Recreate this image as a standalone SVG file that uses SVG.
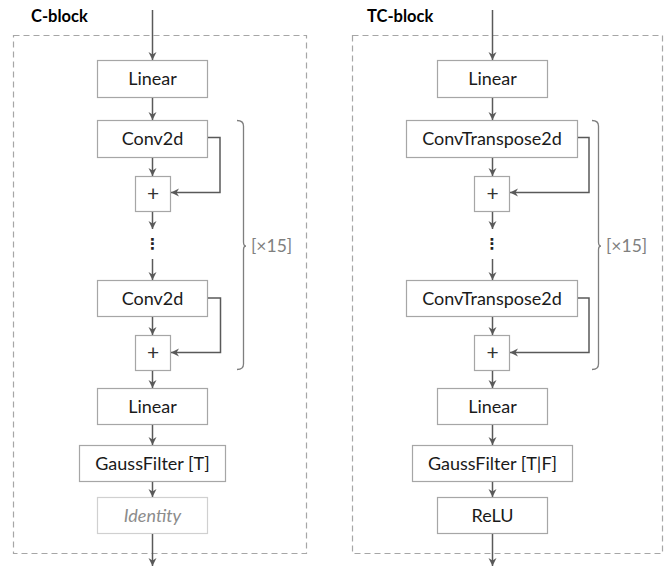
<svg xmlns="http://www.w3.org/2000/svg" width="665" height="566" viewBox="0 0 665 566">
<defs>
<marker id="ah" markerWidth="10" markerHeight="10" refX="8" refY="4" orient="auto" markerUnits="userSpaceOnUse">
<path d="M0,0 L8,4 L0,8 L2.5,4 z" fill="#595959"/>
</marker>
<style>
.frame{fill:none;stroke:#a6a6a6;stroke-width:1.2;stroke-dasharray:6,4}
.box{fill:#fff;stroke:#a6a6a6;stroke-width:1.2}
.ghost{fill:#fff;stroke:#d0d0d0;stroke-width:1.2}
.lbl{font-family:Lato,"Liberation Sans",sans-serif;font-size:18px;fill:#1a1a1a;text-anchor:middle}
.plus{font-family:Lato,"Liberation Sans",sans-serif;font-size:21px;fill:#333;text-anchor:middle}
.it{font-style:italic;fill:#8c8c8c}
.title{font-family:Lato,"Liberation Sans",sans-serif;font-size:16.5px;font-weight:bold;fill:#000}
.rep{font-family:Lato,"Liberation Sans",sans-serif;font-size:17.5px;fill:#7f7f7f}
.arr{fill:none;stroke:#595959;stroke-width:1.5;marker-end:url(#ah)}
.brace{fill:none;stroke:#7f7f7f;stroke-width:1.3}
.dots{font-family:"DejaVu Sans",sans-serif;font-size:15px;font-weight:bold;fill:#222;text-anchor:middle}
</style>
</defs>

<!-- Left block -->
<g id="c-block">
<rect class="frame" x="13.5" y="35.5" width="293" height="518"/>
<text class="title" x="31" y="22">C-block</text>
</g>
<g id="c-linear1"><rect class="box" x="97.5" y="60.5" width="110" height="37"/><text class="lbl" x="152.5" y="85">Linear</text></g>
<g id="c-conv1"><rect class="box" x="97.5" y="120.5" width="110" height="37"/><text class="lbl" x="152.5" y="145">Conv2d</text></g>
<g id="c-plus1"><rect class="box" x="135.5" y="176.5" width="35" height="35"/><text class="plus" x="153" y="201">+</text></g>
<g id="c-dots"><text class="dots" x="152.5" y="249">⋮</text></g>
<g id="c-conv2"><rect class="box" x="97.5" y="280.5" width="110" height="36"/><text class="lbl" x="152.5" y="304.5">Conv2d</text></g>
<g id="c-plus2"><rect class="box" x="135.5" y="335.5" width="35" height="35"/><text class="plus" x="153" y="360">+</text></g>
<g id="c-linear2"><rect class="box" x="97.5" y="388.5" width="110" height="36"/><text class="lbl" x="152.5" y="412.5">Linear</text></g>
<g id="c-gauss"><rect class="box" x="79.5" y="445.5" width="146" height="36"/><text class="lbl" x="152.5" y="469.5">GaussFilter [T]</text></g>
<g id="c-identity"><rect class="ghost" x="97.5" y="497.5" width="110" height="36"/><text class="lbl it" x="152.5" y="521.5">Identity</text></g>
<g id="c-repeat">
<path class="brace" d="M237,120.5 Q243.5,120.5 243.5,126 L243.5,242 Q243.5,246 246,246 Q243.5,246 243.5,250 L243.5,364 Q243.5,369.5 237,369.5"/>
<text class="rep" x="251" y="252">[×15]</text>
</g>

<!-- Right block -->
<g id="tc-block">
<rect class="frame" x="352.5" y="35.5" width="310" height="518"/>
<text class="title" x="367" y="22">TC-block</text>
</g>
<g id="tc-linear1"><rect class="box" x="437.5" y="60.5" width="110" height="37"/><text class="lbl" x="492.5" y="85">Linear</text></g>
<g id="tc-conv1"><rect class="box" x="406.5" y="120.5" width="171" height="37"/><text class="lbl" x="492" y="145">ConvTranspose2d</text></g>
<g id="tc-plus1"><rect class="box" x="474.5" y="176.5" width="35" height="35"/><text class="plus" x="492.5" y="201">+</text></g>
<g id="tc-dots"><text class="dots" x="492" y="249">⋮</text></g>
<g id="tc-conv2"><rect class="box" x="406.5" y="280.5" width="171" height="36"/><text class="lbl" x="492" y="304.5">ConvTranspose2d</text></g>
<g id="tc-plus2"><rect class="box" x="474.5" y="335.5" width="35" height="35"/><text class="plus" x="492.5" y="360">+</text></g>
<g id="tc-linear2"><rect class="box" x="437.5" y="388.5" width="110" height="36"/><text class="lbl" x="492.5" y="412.5">Linear</text></g>
<g id="tc-gauss"><rect class="box" x="412.5" y="445.5" width="160" height="36"/><text class="lbl" x="492.5" y="469.5">GaussFilter [T|F]</text></g>
<g id="tc-relu"><rect class="box" x="437.5" y="497.5" width="110" height="36"/><text class="lbl" x="492.5" y="521.5">ReLU</text></g>
<g id="tc-repeat">
<path class="brace" d="M592,120.5 Q598.5,120.5 598.5,126 L598.5,242 Q598.5,246 601,246 Q598.5,246 598.5,250 L598.5,364 Q598.5,369.5 592,369.5"/>
<text class="rep" x="606" y="252">[×15]</text>
</g>

<!-- Connectors -->
<g id="connectors">
<line class="arr" x1="152.5" y1="10" x2="152.5" y2="60"/>
<line class="arr" x1="152.5" y1="98" x2="152.5" y2="120"/>
<line class="arr" x1="152.5" y1="158" x2="152.5" y2="176"/>
<line class="arr" x1="152.5" y1="212" x2="152.5" y2="229"/>
<line class="arr" x1="152.5" y1="259" x2="152.5" y2="280"/>
<line class="arr" x1="152.5" y1="317" x2="152.5" y2="335"/>
<line class="arr" x1="152.5" y1="371" x2="152.5" y2="388"/>
<line class="arr" x1="152.5" y1="425" x2="152.5" y2="445"/>
<line class="arr" x1="152.5" y1="482" x2="152.5" y2="497"/>
<line class="arr" x1="152.5" y1="534" x2="152.5" y2="566"/>
<polyline class="arr" points="208,137.5 220,137.5 220,192.5 171,192.5"/>
<polyline class="arr" points="208,298 220.5,298 220.5,352.5 171,352.5"/>

<line class="arr" x1="492.5" y1="10" x2="492.5" y2="60"/>
<line class="arr" x1="492.5" y1="98" x2="492.5" y2="120"/>
<line class="arr" x1="492.5" y1="158" x2="492.5" y2="176"/>
<line class="arr" x1="492.5" y1="212" x2="492.5" y2="229"/>
<line class="arr" x1="492.5" y1="259" x2="492.5" y2="280"/>
<line class="arr" x1="492.5" y1="317" x2="492.5" y2="335"/>
<line class="arr" x1="492.5" y1="371" x2="492.5" y2="388"/>
<line class="arr" x1="492.5" y1="425" x2="492.5" y2="445"/>
<line class="arr" x1="492.5" y1="482" x2="492.5" y2="497"/>
<line class="arr" x1="492.5" y1="534" x2="492.5" y2="566"/>
<polyline class="arr" points="578,137.5 589,137.5 589,192.5 510,192.5"/>
<polyline class="arr" points="578,298 589,298 589,352.5 510,352.5"/>
</g>
</svg>
